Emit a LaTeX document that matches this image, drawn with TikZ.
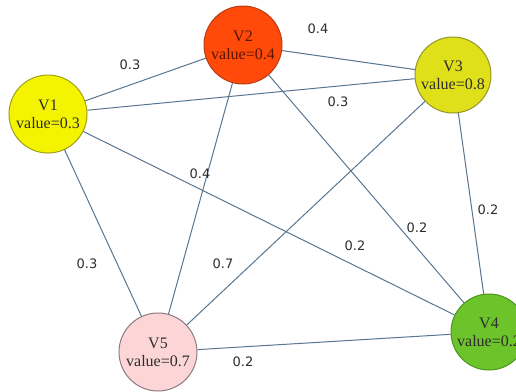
\documentclass[tikz,border=0pt]{standalone}
\usepackage{fontspec}
\setmainfont{Liberation Serif}
\newfontfamily\labelfont{DejaVu Sans}
\definecolor{edgecol}{RGB}{88,118,145}
\definecolor{fillA}{RGB}{244,244,0}
\definecolor{drawA}{RGB}{160,160,20}
\definecolor{fillB}{RGB}{255,74,10}
\definecolor{drawB}{RGB}{185,60,20}
\definecolor{fillC}{RGB}{224,224,26}
\definecolor{drawC}{RGB}{150,150,40}
\definecolor{fillD}{RGB}{108,196,42}
\definecolor{drawD}{RGB}{74,150,30}
\definecolor{fillE}{RGB}{252,214,214}
\definecolor{drawE}{RGB}{140,122,130}
\definecolor{txt}{RGB}{45,45,45}
\definecolor{txtB}{RGB}{90,20,0}
\tikzset{
  vnode/.style={circle, minimum size=78pt, inner sep=0pt, line width=1pt, align=center,
    font=\fontsize{16}{18}\selectfont, text=txt},
  edge/.style={draw=edgecol, line width=1pt},
  elabel/.style={font=\labelfont\fontsize{13}{15}\selectfont, text=txt, inner sep=0pt}
}
\begin{document}
\begin{tikzpicture}[x=1pt,y=-1pt]
\useasboundingbox (0,0) rectangle (516,391);
\fill[white] (0,0) rectangle (516,391);
\clip (0,0) rectangle (516,391);
\node[vnode, fill=fillA, draw=drawA] (v1) at (48,114) {V1\\value=0.3};
\node[vnode, fill=fillB, draw=drawB, text=txtB] (v2) at (243,45) {V2\\value=0.4};
\node[vnode, fill=fillC, draw=drawC, minimum size=76pt] (v3) at (453,75) {V3\\value=0.8};
\node[vnode, fill=fillD, draw=drawD, minimum size=76pt] (v4) at (489,332) {V4\\value=0.2};
\node[vnode, fill=fillE, draw=drawE] (v5) at (158,352) {V5\\value=0.7};
\draw[edge] (v1) -- (v2);
\draw[edge] (v1) -- (v3);
\draw[edge] (v1) -- (v4);
\draw[edge] (v1) -- (v5);
\draw[edge] (v2) -- (v3);
\draw[edge] (v2) -- (v4);
\draw[edge] (v2) -- (v5);
\draw[edge] (v3) -- (v4);
\draw[edge] (v3) -- (v5);
\draw[edge] (v5) -- (v4);
\node[elabel] (l12) at (130,65) {0.3};
\node[elabel] (l23) at (318,29) {0.4};
\node[elabel] (l13) at (338,102) {0.3};
\node[elabel] (l25) at (200,174) {0.4};
\node[elabel] (l34) at (488,210) {0.2};
\node[elabel] (l24) at (417,228) {0.2};
\node[elabel] (l14) at (355,246) {0.2};
\node[elabel] (l15) at (87,264) {0.3};
\node[elabel] (l35) at (223,264) {0.7};
\node[elabel] (l54) at (243,362) {0.2};
\end{tikzpicture}
\end{document}
